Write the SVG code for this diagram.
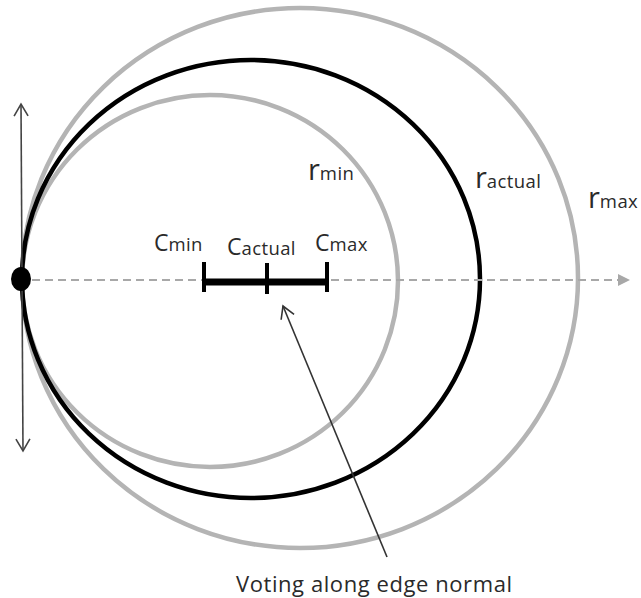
<svg xmlns="http://www.w3.org/2000/svg" width="641" height="598" viewBox="0 0 641 598">
<style>
.gray{fill:none;stroke:#b4b4b4;stroke-width:4.5}
.blk{fill:none;stroke:#000;stroke-width:4.5}
.t{font-family:"Open Sans","Liberation Sans",sans-serif;fill:#2a2a2a}
.big{font-size:23px}
.rr{font-size:29px}
.sub{font-size:18.5px;letter-spacing:0.4px}
</style>
<defs>
<marker id="open" markerWidth="16" markerHeight="16" refX="14" refY="8" orient="auto" markerUnits="userSpaceOnUse">
<path d="M2,1 L14,8 L2,15" fill="none" stroke="#333" stroke-width="1.6"/>
</marker>
<marker id="open2" markerWidth="16" markerHeight="16" refX="14" refY="8" orient="auto-start-reverse" markerUnits="userSpaceOnUse">
<path d="M2,1 L14,8 L2,15" fill="none" stroke="#444" stroke-width="1.6"/>
</marker>
<marker id="tri" markerWidth="14" markerHeight="12" refX="12" refY="6" orient="auto" markerUnits="userSpaceOnUse">
<path d="M0,0 L12,6 L0,12 Z" fill="#a8a8a8"/>
</marker>
</defs>
<g id="circle-max"><ellipse class="gray" cx="300" cy="278" rx="278" ry="270"/></g>
<g id="circle-min"><ellipse class="gray" cx="210" cy="281" rx="188" ry="186"/></g>
<g id="circle-actual"><ellipse class="blk" cx="251" cy="279" rx="229" ry="219"/></g>
<g id="connectors">
<line x1="32" y1="280" x2="630" y2="280" stroke="#a8a8a8" stroke-width="2" stroke-dasharray="8,5" marker-end="url(#tri)"/>
<line x1="21" y1="104" x2="23" y2="451" stroke="#444" stroke-width="1.6" marker-start="url(#open2)" marker-end="url(#open2)"/>
<line x1="387" y1="557" x2="283" y2="306" stroke="#333" stroke-width="1.6" marker-end="url(#open)"/>
</g>
<g id="edge-point"><ellipse cx="21" cy="279" rx="10" ry="12" fill="#000"/></g>
<g id="center-range">
<line x1="204" y1="282" x2="327" y2="282" stroke="#000" stroke-width="7"/>
<line x1="204" y1="262" x2="204" y2="292" stroke="#000" stroke-width="4"/>
<line x1="267" y1="263" x2="267" y2="294" stroke="#000" stroke-width="4"/>
<line x1="327" y1="262" x2="327" y2="292" stroke="#000" stroke-width="4"/>
</g>
<g id="labels">
<text class="t" x="154" y="251"><tspan class="big">C</tspan><tspan class="sub">min</tspan></text>
<text class="t" x="227" y="255"><tspan class="big">C</tspan><tspan class="sub">actual</tspan></text>
<text class="t" x="315" y="251"><tspan class="big">C</tspan><tspan class="sub">max</tspan></text>
<text class="t" x="308" y="180"><tspan class="rr">r</tspan><tspan class="sub">min</tspan></text>
<text class="t" x="475" y="188"><tspan class="rr">r</tspan><tspan class="sub">actual</tspan></text>
<text class="t" x="588" y="208"><tspan class="rr">r</tspan><tspan class="sub">max</tspan></text>
<text class="t" x="236" y="592" font-size="22" textLength="276">Voting along edge normal</text>
</g>
</svg>
